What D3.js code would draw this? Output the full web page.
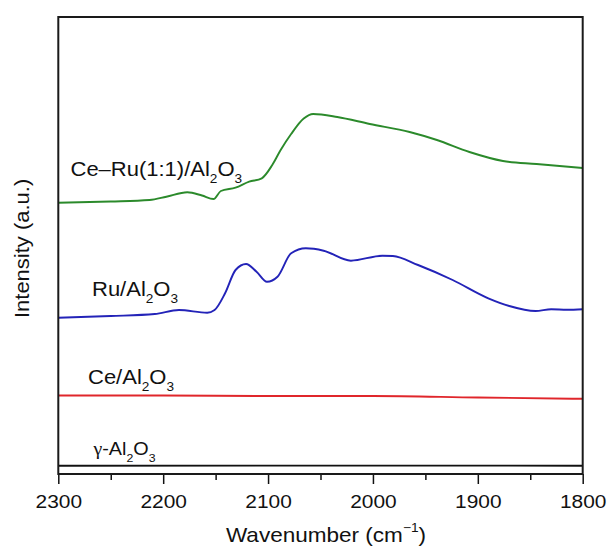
<!DOCTYPE html>
<html>
<head>
<meta charset="utf-8">
<script src="https://cdn.jsdelivr.net/npm/d3@7"></script>
<style>
  html, body { margin: 0; padding: 0; background: #fff; }
  svg { display: block; }
  text { font-family: "Liberation Sans", Arial, Helvetica, sans-serif; fill: #111; }
</style>
</head>
<body>
<svg id="chart" width="611" height="555"></svg>
<script>
// DRIFTS spectra of CO adsorption, wavenumber axis runs high -> low
const wavenumberDomain = [2300, 1800];
const majorTicks = [2300, 2200, 2100, 2000, 1900, 1800];
const minorTicks = [2250, 2150, 2050, 1950, 1850];

// Ce–Ru(1:1)/Al2O3 (offset, a.u.)
const ceRuWave = [2300, 2250, 2213, 2197, 2177, 2163, 2152, 2145, 2131, 2118, 2106, 2096, 2088, 2078, 2066, 2057, 2034, 2003, 1965, 1939, 1908, 1876, 1844, 1800];
const ceRuInt  = [27.13, 27.25, 27.4, 27.73, 28.17, 27.85, 27.5, 28.3, 28.63, 29.23, 29.57, 30.9, 32.4, 34.0, 35.55, 36.0, 35.7, 35.0, 34.2, 33.4, 32.2, 31.3, 31.0, 30.6];

// Ru/Al2O3
const ruWave = [2300, 2250, 2208, 2185, 2158, 2151, 2141, 2131, 2121, 2111, 2101, 2091, 2078, 2064, 2047, 2021, 1991, 1981, 1957, 1924, 1890, 1870, 1845, 1830, 1815, 1800];
const ruInt  = [15.63, 15.8, 16.0, 16.4, 16.13, 16.4, 18.07, 20.4, 21.0, 20.23, 19.23, 19.73, 22.07, 22.57, 22.33, 21.33, 21.83, 21.8, 20.9, 19.4, 17.57, 16.8, 16.3, 16.47, 16.42, 16.47];

// Ce/Al2O3
const ceWave = [2300, 2200, 2100, 2000, 1900, 1800];
const ceInt  = [7.85, 7.85, 7.8, 7.8, 7.65, 7.52];

// γ-Al2O3
const alWave = [2300, 2050, 1800];
const alInt  = [0.83, 0.84, 0.83];

const series = [
  { wave: ceRuWave, val: ceRuInt, color: "#2b8a2b" },
  { wave: ruWave,   val: ruInt,   color: "#2323b8" },
  { wave: ceWave,   val: ceInt,   color: "#e0262b" },
  { wave: alWave,   val: alInt,   color: "#111111" }
];

const margin = { left: 58.3, right: 582.7, top: 17, bottom: 474 };
const svg = d3.select("#chart");

const x = d3.scaleLinear().domain(wavenumberDomain).range([margin.left, margin.right]);
const y = d3.scaleLinear().domain([0, 45.7]).range([margin.bottom, margin.top]);

const line = d3.line()
  .x(d => x(d[0]))
  .y(d => y(d[1]))
  .curve(d3.curveMonotoneX);

// spectra
series.forEach(s => {
  svg.append("path")
    .datum(s.wave.map((w, i) => [w, s.val[i]]).sort((a, b) => a[0] - b[0]))
    .attr("fill", "none")
    .attr("stroke", s.color)
    .attr("stroke-width", 1.9)
    .attr("stroke-linejoin", "round")
    .attr("d", line);
});

// bottom axis: major ticks with labels
const xAxis = svg.append("g")
  .attr("transform", `translate(0,${margin.bottom})`)
  .call(d3.axisBottom(x).tickValues(majorTicks).tickSize(10).tickPadding(10.5).tickFormat(d3.format("d")));
xAxis.select(".domain").remove();
xAxis.selectAll(".tick line").attr("stroke", "#111").attr("stroke-width", 1.5);
xAxis.selectAll(".tick text")
  .attr("font-size", 19)
  .attr("font-family", '"Liberation Sans", Arial, sans-serif')
  .attr("fill", "#111")
  .attr("transform", "scale(1.1,1)");

// minor ticks
const xMinor = svg.append("g")
  .attr("transform", `translate(0,${margin.bottom})`)
  .call(d3.axisBottom(x).tickValues(minorTicks).tickSize(6).tickFormat(""));
xMinor.select(".domain").remove();
xMinor.selectAll(".tick line").attr("stroke", "#111").attr("stroke-width", 1.5);

// plot frame
svg.append("rect")
  .attr("x", margin.left)
  .attr("y", margin.top)
  .attr("width", margin.right - margin.left)
  .attr("height", margin.bottom - margin.top)
  .attr("fill", "none")
  .attr("stroke", "#1a1a1a")
  .attr("stroke-width", 2);

// series labels with subscripts
function chemLabel(parts, px, py, size) {
  const t = svg.append("text")
    .attr("transform", `translate(${px},${py}) scale(1.1,1)`)
    .attr("font-size", size);
  let shift = 0;
  parts.forEach(p => {
    const span = t.append("tspan");
    if (p.sub) {
      span.attr("font-size", size * 0.62).attr("dy", 7 - shift).text(p.sub);
      shift = 7;
    } else {
      span.attr("dy", -shift).text(p.t);
      if (p.serif) span.attr("font-family", '"Liberation Serif", "Times New Roman", serif');
      shift = 0;
    }
  });
  return t;
}

chemLabel([{ t: "Ce–Ru(1:1)/Al" }, { sub: "2" }, { t: "O" }, { sub: "3" }], 70.5, 176, 20);
chemLabel([{ t: "Ru/Al" }, { sub: "2" }, { t: "O" }, { sub: "3" }], 92, 296, 20);
chemLabel([{ t: "Ce/Al" }, { sub: "2" }, { t: "O" }, { sub: "3" }], 88, 384, 20);
chemLabel([{ t: "γ", serif: true }, { t: "-Al" }, { sub: "2" }, { t: "O" }, { sub: "3" }], 93.5, 455, 18);

// axis titles
const xTitle = svg.append("text")
  .attr("transform", "translate(326,542.3) scale(1.1,1)")
  .attr("text-anchor", "middle")
  .attr("font-size", 20.5);
xTitle.append("tspan").text("Wavenumber (cm");
xTitle.append("tspan").attr("font-size", 12.5).attr("dy", -10).text("−1");
xTitle.append("tspan").attr("dy", 10).text(")");

svg.append("text")
  .attr("transform", "translate(28.7,248.4) rotate(-90) scale(1.1,1)")
  .attr("text-anchor", "middle")
  .attr("font-size", 20)
  .text("Intensity (a.u.)");
</script>
</body>
</html>
